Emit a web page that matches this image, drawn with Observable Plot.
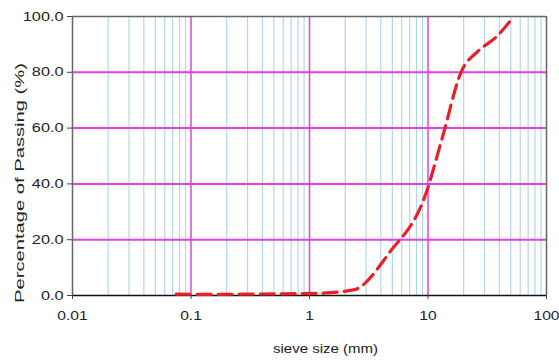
<!DOCTYPE html>
<html><head><meta charset="utf-8">
<script src="https://cdn.jsdelivr.net/npm/d3@7"></script>
<script src="https://cdn.jsdelivr.net/npm/@observablehq/plot@0.6"></script>
<style>
body{margin:0;background:#fff;}
svg text{font-family:"Liberation Sans",Arial,sans-serif;}
</style></head>
<body><div id="chart"></div>
<script>
const sieveSize = [0.075, 0.15, 0.3, 0.6, 1.18, 2.36, 4.75, 9.5, 13.2, 19, 26.5, 37.5, 53];
const passing   = [0.5, 0.4, 0.5, 0.6, 0.8, 2.0, 15.5, 36, 56.5, 80, 87.6, 92.6, 100];
const xTicks = [0.01, 0.1, 1, 10, 100];
const xTickLabels = ["0.01", "0.1", "1", "10", "100"];
const yTicks = [0, 20, 40, 60, 80, 100];
const xTitle = "sieve size (mm)";
const yTitle = "Percentage of Passing (%)";
const minorX = [];
for (const d of [0.01, 0.1, 1, 10]) for (let k = 2; k <= 9; k++) minorX.push(+(d * k).toPrecision(3));

const data = sieveSize.map((s, i) => ({size: s, pass: passing[i]}));

const chart = Plot.plot({
  width: 559, height: 361,
  marginLeft: 72, marginRight: 13, marginTop: 16, marginBottom: 66,
  style: {fontSize: "12px", fontFamily: "Liberation Sans, Arial, sans-serif", color: "#222", background: "#fff"},
  x: {type: "log", domain: [0.01, 100], label: null},
  y: {domain: [0, 100], label: null},
  marks: [
    Plot.ruleX(minorX, {stroke: "#b3d6ec", strokeWidth: 1.2}),
    Plot.ruleX([0.1, 1, 10], {stroke: "#e43ee4", strokeWidth: 1.5}),
    Plot.ruleY([20, 40, 60, 80], {stroke: "#e43ee4", strokeWidth: 2}),
    Plot.ruleY([100], {stroke: "#666", strokeWidth: 1.5}),
    Plot.ruleX([0.01, 100], {stroke: "#666", strokeWidth: 1.5}),
    Plot.ruleY([0], {stroke: "#111", strokeWidth: 1.5}),
    Plot.axisX({ticks: xTicks, tickFormat: d => xTickLabels[xTicks.indexOf(d)], tickSize: 4, tickPadding: 11, fontSize: 13, stroke: "#444", label: null}),
    Plot.axisY({ticks: yTicks, tickFormat: d => d.toFixed(1), tickSize: 5, tickPadding: 4, fontSize: 13, stroke: "#444", label: null}),
    Plot.text([xTitle], {frameAnchor: "bottom", dx: 16, dy: 57, fontSize: 13, fill: "#222"}),
    Plot.text([yTitle], {frameAnchor: "left", textAnchor: "middle", dx: -53, dy: 27, rotate: -90, fontSize: 13, fill: "#222"}),
    Plot.line(data, {x: "size", y: "pass", stroke: "#e8202a", strokeWidth: 3.2, strokeDasharray: "14,7", curve: "monotone-x"})
  ]
});
document.getElementById("chart").appendChild(chart);

function stretch(el, factor, fixed) {
  const len = el.getComputedTextLength();
  el.setAttribute("textLength", fixed || len * factor);
  el.setAttribute("lengthAdjust", "spacingAndGlyphs");
}
chart.querySelectorAll("text").forEach(t => {
  const s = t.textContent;
  if (s === yTitle) stretch(t, 1, 240);
  else if (s === xTitle) stretch(t, 1, 105);
});
chart.querySelectorAll('g[aria-label="y-axis tick label"] text').forEach(t => stretch(t, 1.25));
chart.querySelectorAll('g[aria-label="x-axis tick label"] text').forEach(t => stretch(t, 1.2));
</script></body></html>
